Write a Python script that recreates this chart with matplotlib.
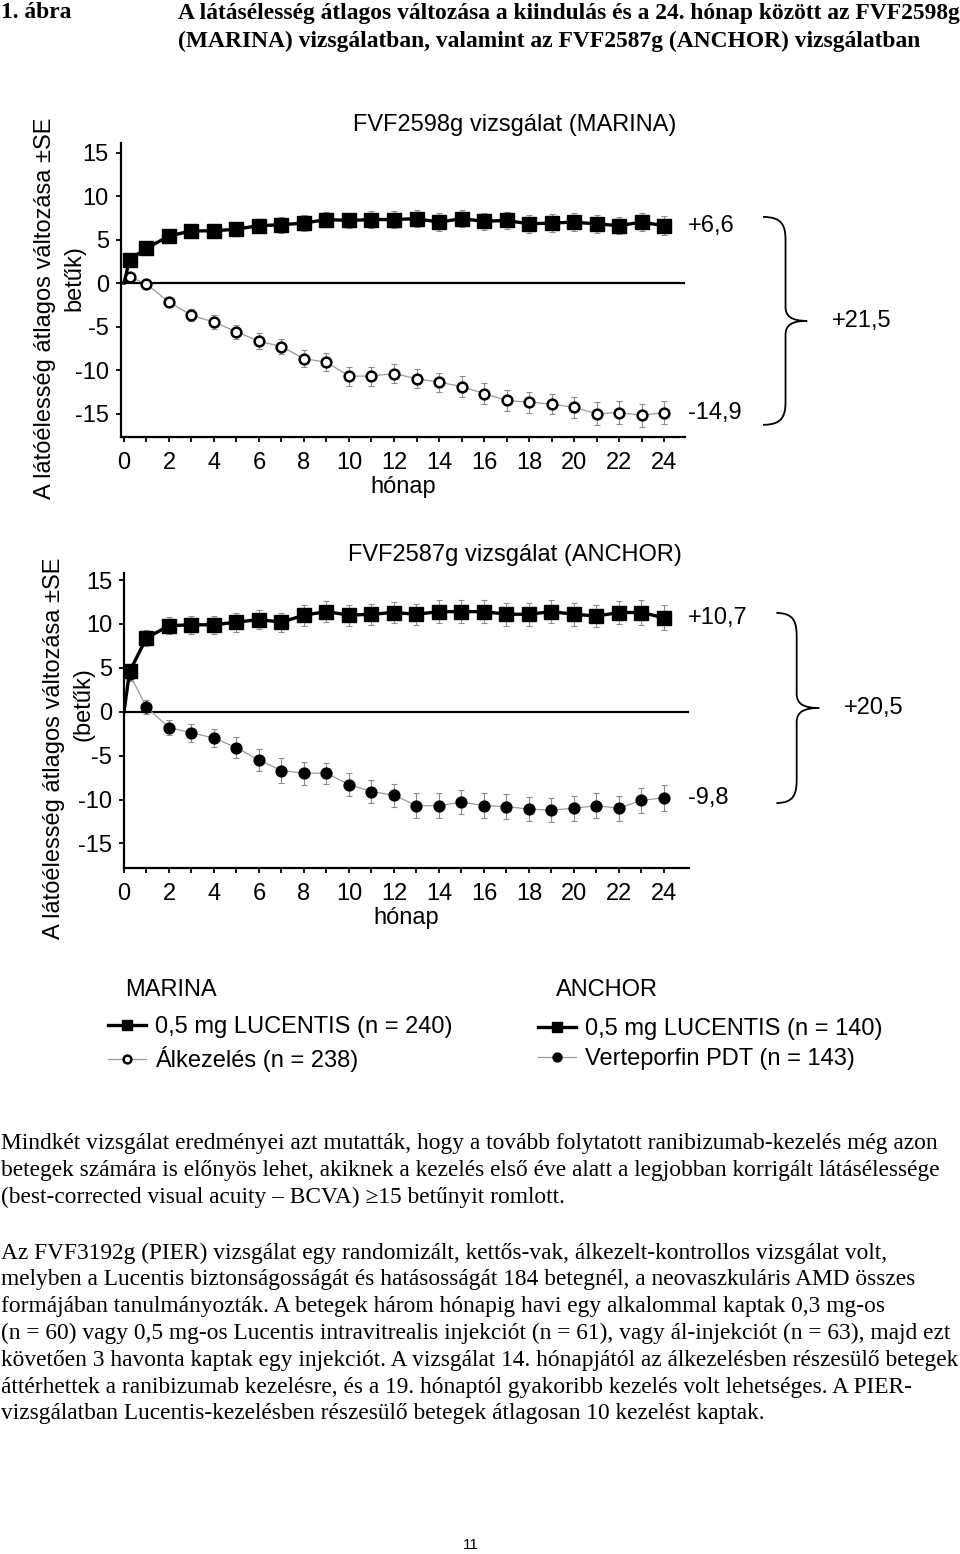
import numpy as np
import matplotlib
matplotlib.use("Agg")
from matplotlib import pyplot as plt
from matplotlib.path import Path
from matplotlib.patches import PathPatch

plt.rcParams['font.family'] = ['Liberation Sans', 'DejaVu Sans']
plt.rcParams['axes.unicode_minus'] = False

# x positions (months): first visit at week 1, then monthly
months = [0.25] + list(range(1, 25))

# MARINA
marina_luc = [2.7, 4.0, 5.4, 6.0, 6.0, 6.2, 6.6, 6.7, 6.9, 7.3, 7.2, 7.3, 7.3,
              7.4, 7.0, 7.4, 7.1, 7.2, 6.8, 6.9, 7.0, 6.8, 6.6, 7.0, 6.6]
marina_luc_se = [0.5, 0.6, 0.7, 0.7, 0.8, 0.8, 0.8, 0.9, 0.9, 0.9, 0.9, 1.0, 1.0,
                 1.0, 1.0, 1.0, 1.0, 1.0, 1.0, 1.0, 1.0, 1.0, 1.0, 1.0, 1.1]
marina_sham = [0.7, -0.1, -2.2, -3.7, -4.5, -5.6, -6.7, -7.3, -8.7, -9.1, -10.7, -10.7, -10.4,
               -11.0, -11.4, -11.9, -12.7, -13.5, -13.7, -13.9, -14.3, -15.0, -14.9, -15.2, -14.9]
marina_sham_se = [0.5, 0.5, 0.6, 0.7, 0.8, 0.8, 0.9, 0.9, 1.0, 1.0, 1.1, 1.1, 1.1,
                  1.1, 1.1, 1.2, 1.2, 1.2, 1.2, 1.2, 1.2, 1.3, 1.3, 1.3, 1.3]
marina_final = [6.6, -14.9]

# ANCHOR
anchor_luc = [4.6, 8.4, 9.8, 9.9, 9.9, 10.2, 10.5, 10.2, 11.0, 11.4, 11.0, 11.1, 11.3,
              11.1, 11.4, 11.4, 11.4, 11.1, 11.1, 11.4, 11.1, 10.9, 11.3, 11.3, 10.7]
anchor_luc_se = [0.8, 0.9, 1.0, 1.0, 1.0, 1.1, 1.1, 1.1, 1.2, 1.2, 1.2, 1.2, 1.2,
                 1.2, 1.3, 1.3, 1.3, 1.3, 1.3, 1.3, 1.3, 1.3, 1.3, 1.4, 1.4]
anchor_pdt = [4.3, 0.5, -1.8, -2.4, -3.0, -4.1, -5.5, -6.7, -7.0, -7.0, -8.3, -9.1, -9.5,
              -10.7, -10.7, -10.3, -10.7, -10.8, -11.1, -11.2, -11.0, -10.7, -11.0, -10.1, -9.8]
anchor_pdt_se = [0.8, 0.8, 0.9, 1.0, 1.0, 1.2, 1.3, 1.4, 1.3, 1.2, 1.3, 1.3, 1.3,
                 1.4, 1.4, 1.4, 1.4, 1.4, 1.4, 1.4, 1.4, 1.4, 1.4, 1.4, 1.5]
anchor_final = [10.7, -9.8]

yticks = [-15, -10, -5, 0, 5, 10, 15]
xtick_labels = [str(m) if m % 2 == 0 else '' for m in range(25)]

marina_labels = ['0,5 mg LUCENTIS (n = 240)', 'Álkezelés (n = 238)']
anchor_labels = ['0,5 mg LUCENTIS (n = 140)', 'Verteporfin PDT (n = 143)']

title_lines = ['A látásélesség átlagos változása a kiindulás és a 24. hónap között az FVF2598g',
               '(MARINA) vizsgálatban, valamint az FVF2587g (ANCHOR) vizsgálatban']
para1 = ['Mindkét vizsgálat eredményei azt mutatták, hogy a tovább folytatott ranibizumab-kezelés még azon',
         'betegek számára is előnyös lehet, akiknek a kezelés első éve alatt a legjobban korrigált látásélessége',
         '(best-corrected visual acuity – BCVA) ≥15 betűnyit romlott.']
para2 = ['Az FVF3192g (PIER) vizsgálat egy randomizált, kettős-vak, álkezelt-kontrollos vizsgálat volt,',
         'melyben a Lucentis biztonságosságát és hatásosságát 184 betegnél, a neovaszkuláris AMD összes',
         'formájában tanulmányozták. A betegek három hónapig havi egy alkalommal kaptak 0,3 mg-os',
         '(n = 60) vagy 0,5 mg-os Lucentis intravitrealis injekciót (n = 61), vagy ál-injekciót (n = 63), majd ezt',
         'követően 3 havonta kaptak egy injekciót. A vizsgálat 14. hónapjától az álkezelésben részesülő betegek',
         'áttérhettek a ranibizumab kezelésre, és a 19. hónaptól gyakoribb kezelés volt lehetséges. A PIER-',
         'vizsgálatban Lucentis-kezelésben részesülő betegek átlagosan 10 kezelést kaptak.']

W, H = 960, 1554
SANS = 17
SERIF = ['Liberation Serif', 'DejaVu Serif']


def fx(x):
    return x / W


def fy(y):
    return 1 - y / H


def fmt(v, sign=True):
    s = ('%+.1f' if sign else '%.1f') % v
    return s.replace('.', ',')


def brace(ax, x0, xm, xt, y0, y1, r, rt):
    yc = (y0 + y1) / 2
    verts = [(x0, y0),
             (xm - (xm - x0) * 0.1, y0), (xm, y0 - r * 0.4), (xm, y0 - r),
             (xm, yc + rt),
             (xm, yc + rt * 0.3), (xm + (xt - xm) * 0.3, yc), (xt, yc),
             (xm + (xt - xm) * 0.3, yc), (xm, yc - rt * 0.3), (xm, yc - rt),
             (xm, y1 + r),
             (xm, y1 + r * 0.4), (xm - (xm - x0) * 0.1, y1), (x0, y1)]
    codes = [Path.MOVETO,
             Path.CURVE4, Path.CURVE4, Path.CURVE4,
             Path.LINETO,
             Path.CURVE4, Path.CURVE4, Path.CURVE4,
             Path.CURVE4, Path.CURVE4, Path.CURVE4,
             Path.LINETO,
             Path.CURVE4, Path.CURVE4, Path.CURVE4]
    ax.add_patch(PathPatch(Path(verts, codes), fill=False, lw=1.3, color='black', clip_on=False))


def panel(ax, luc, luc_se, ctl, ctl_se, ctl_face, final, xlim, ylim, brace_x, brace_pad):
    x_all = [0] + months
    ax.errorbar(months, ctl, yerr=ctl_se, fmt='none', ecolor='#8c8c8c', elinewidth=0.8,
                capsize=2, capthick=0.8, zorder=2)
    ax.errorbar(months, luc, yerr=luc_se, fmt='none', ecolor='#8c8c8c', elinewidth=0.8,
                capsize=2, capthick=0.8, zorder=2)
    l_ctl, = ax.plot(x_all, [0] + ctl, color='#9a9a9a', lw=0.9, marker='o', ms=7,
                     mfc=ctl_face, mec='black', mew=1.8, markevery=list(range(1, 26)), zorder=3)
    l_luc, = ax.plot(x_all, [0] + luc, color='black', lw=2.4, marker='s', ms=9.5,
                     mfc='black', mec='black', markevery=list(range(1, 26)), zorder=4)
    ax.axhline(0, color='black', lw=1.6, zorder=1)
    ax.set_xlim(*xlim)
    ax.set_ylim(*ylim)
    ax.set_yticks(yticks)
    ax.set_xticks(range(25))
    ax.set_xticklabels(xtick_labels)
    ax.tick_params(labelsize=SANS, width=1.3, length=3.5, color='black')
    ax.tick_params(axis='y', pad=5)
    ax.tick_params(axis='x', pad=7)
    ax.set_xlabel('hónap', fontsize=SANS, labelpad=2)
    for s in ['top', 'right']:
        ax.spines[s].set_visible(False)
    for s in ['left', 'bottom']:
        ax.spines[s].set_linewidth(1.6)
    # end values
    for v in final:
        ax.annotate(fmt(v) if v > 0 else fmt(v, False), xy=(months[-1], v), xytext=(17, 0),
                    textcoords='offset points', fontsize=SANS, va='center', ha='left',
                    annotation_clip=False)
    x0, xm, xt = brace_x
    brace(ax, x0, xm, xt, final[0] + brace_pad[0], final[1] - brace_pad[1], 2.8, 1.6)
    ax.text(xt + 1.1, (final[0] + brace_pad[0] + final[1] - brace_pad[1]) / 2,
            fmt(final[0] - final[1]), fontsize=SANS, va='center', ha='left', clip_on=False)
    return l_luc, l_ctl


fig = plt.figure(figsize=(9.6, 15.54), dpi=100)

ax1 = fig.add_axes([fx(120.6), fy(437), 564.8 / W, 294 / H])
h1 = panel(ax1, marina_luc, marina_luc_se, marina_sham, marina_sham_se, 'white', marina_final,
           (-0.15, 24.95), (-17.7, 16.1), (28.4, 29.4, 30.36), (1.0, 1.4))

ax2 = fig.add_axes([fx(124), fy(868), 564.7 / W, 295 / H])
h2 = panel(ax2, anchor_luc, anchor_luc_se, anchor_pdt, anchor_pdt_se, 'black', anchor_final,
           (0, 25.1), (-17.8, 15.8), (29.0, 29.9, 30.9), (0.55, 0.6))

# panel titles and y labels
fig.text(fx(515), fy(125), 'FVF2598g vizsgálat (MARINA)', fontsize=SANS, ha='center', va='center')
fig.text(fx(515), fy(555), 'FVF2587g vizsgálat (ANCHOR)', fontsize=SANS, ha='center', va='center')
fig.text(fx(45), fy(308), 'A látóélesség átlagos változása ±SE', fontsize=SANS, rotation=90,
         ha='center', va='center')
fig.text(fx(74), fy(278), 'betűk)', fontsize=SANS, rotation=90, ha='center', va='center')
fig.text(fx(54), fy(748), 'A látóélesség átlagos változása ±SE', fontsize=SANS, rotation=90,
         ha='center', va='center')
fig.text(fx(84), fy(704), '(betűk)', fontsize=SANS, rotation=90, ha='center', va='center')

# legends
fig.text(fx(125), fy(990), 'MARINA', fontsize=SANS, ha='left', va='center')
fig.text(fx(556), fy(990), 'ANCHOR', fontsize=SANS, ha='left', va='center')
fig.legend(h1, marina_labels, loc='upper left', bbox_to_anchor=(fx(108), fy(1016)),
           frameon=False, fontsize=SANS, borderpad=0, borderaxespad=0, handlelength=1.6,
           handletextpad=0.4, labelspacing=0.33, markerscale=0.8)
fig.legend(h2, anchor_labels, loc='upper left', bbox_to_anchor=(fx(538), fy(1018)),
           frameon=False, fontsize=SANS, borderpad=0, borderaxespad=0, handlelength=1.6,
           handletextpad=0.4, labelspacing=0.33, markerscale=0.8)

# header
TSZ = 16.9
fig.text(fx(1), fy(13), '1. ábra', family=SERIF, fontweight='bold', fontsize=TSZ, va='center')
fig.text(fx(178), fy(13), title_lines[0], family=SERIF, fontweight='bold', fontsize=TSZ, va='center')
fig.text(fx(178), fy(41), title_lines[1], family=SERIF, fontweight='bold', fontsize=TSZ, va='center')

# body text
BSZ = 16.8
for i, line in enumerate(para1):
    fig.text(fx(1), fy(1143 + 27.3 * i), line, family=SERIF, fontsize=BSZ, va='center')
for i, line in enumerate(para2):
    fig.text(fx(1), fy(1253 + 26.8 * i), line, family=SERIF, fontsize=BSZ, va='center')

fig.text(fx(471), fy(1545), '11', fontsize=11, ha='center', va='center')

fig.savefig('out.png', dpi=100)
